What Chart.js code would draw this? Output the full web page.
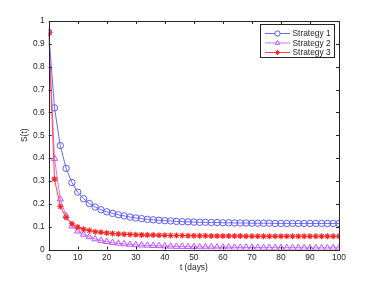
<!DOCTYPE html>
<html lang="en">
<head>
<meta charset="UTF-8">
<title>S(t) strategies</title>
<script src="https://cdn.jsdelivr.net/npm/chart.js"></script>
<style>
  body { margin: 0; padding: 0; background: #fff; }
  #wrap { width: 374px; height: 281px; position: relative; }
</style>
</head>
<body>
<div id="wrap"><canvas id="chart"></canvas></div>
<script>
  // time points (days), every 2 days
  var days = [0,2,4,6,8,10,12,14,16,18,20,22,24,26,28,30,32,34,36,38,40,42,44,46,48,50,
              52,54,56,58,60,62,64,66,68,70,72,74,76,78,80,82,84,86,88,90,92,94,96,98,100];

  var strategy1 = [0.95,0.62,0.455,0.355,0.293,0.251,0.222,0.201,0.186,0.174,0.165,0.158,0.152,0.147,0.142,0.138,
                   0.135,0.132,0.130,0.128,0.126,0.125,0.123,0.122,0.121,0.120,0.119,0.119,0.118,0.118,0.117,
                   0.117,0.116,0.116,0.116,0.115,0.115,0.115,0.115,0.114,0.114,0.114,0.114,0.114,0.114,0.114,
                   0.114,0.114,0.114,0.114,0.114];
  var strategy2 = [0.95,0.398,0.220,0.147,0.102,0.080,0.066,0.055,0.046,0.039,0.034,0.030,0.027,0.024,0.022,0.020,
                   0.019,0.018,0.017,0.016,0.015,0.014,0.013,0.013,0.012,0.012,0.011,0.011,0.011,0.010,0.010,
                   0.010,0.009,0.009,0.009,0.009,0.009,0.008,0.008,0.008,0.008,0.008,0.008,0.008,0.007,0.007,
                   0.007,0.007,0.007,0.007,0.007];
  var strategy3 = [0.95,0.308,0.188,0.140,0.113,0.098,0.089,0.083,0.078,0.075,0.072,0.070,0.068,0.067,0.066,0.065,
                   0.064,0.063,0.063,0.062,0.062,0.061,0.061,0.061,0.060,0.060,0.060,0.060,0.059,0.059,0.059,
                   0.059,0.059,0.059,0.058,0.058,0.058,0.058,0.058,0.058,0.058,0.058,0.058,0.058,0.058,0.058,
                   0.058,0.058,0.058,0.058,0.058];

  var seriesNames = ['Strategy 1', 'Strategy 2', 'Strategy 3'];
  var xTicks = [0,10,20,30,40,50,60,70,80,90,100];
  var yTicks = [0,0.1,0.2,0.3,0.4,0.5,0.6,0.7,0.8,0.9,1];

  function pts(vals) {
    return vals.map(function (v, i) { return { x: days[i], y: v }; });
  }

  var FONT = 'Arial, "Liberation Sans", Helvetica, sans-serif';
  var FS = 8.4;

  // caja estilo matlab con ticks hacia dentro + leyenda dentro del area
  var frameAndLegend = {
    id: 'frameAndLegend',
    afterDraw: function (chart) {
      var ctx = chart.ctx, a = chart.chartArea;
      var xs = chart.scales.x, ys = chart.scales.y;
      ctx.save();
      ctx.strokeStyle = '#262626';
      ctx.lineWidth = 1;
      ctx.strokeRect(Math.round(a.left) + 0.5, Math.round(a.top) + 0.5,
                     Math.round(a.right - a.left), Math.round(a.bottom - a.top));
      ctx.beginPath();
      xTicks.forEach(function (t) {
        var px = Math.round(xs.getPixelForValue(t)) + 0.5;
        ctx.moveTo(px, a.bottom); ctx.lineTo(px, a.bottom - 3);
        ctx.moveTo(px, a.top); ctx.lineTo(px, a.top + 3);
      });
      yTicks.forEach(function (t) {
        var py = Math.round(ys.getPixelForValue(t)) + 0.5;
        ctx.moveTo(a.left, py); ctx.lineTo(a.left + 3, py);
        ctx.moveTo(a.right, py); ctx.lineTo(a.right - 3, py);
      });
      ctx.stroke();

      // leyenda
      var bx = 260.5, by = 24.5, bw = 74, bh = 33;
      ctx.fillStyle = '#fff';
      ctx.fillRect(bx, by, bw, bh);
      ctx.strokeStyle = '#262626';
      ctx.strokeRect(bx, by, bw, bh);
      ctx.font = FS + 'px ' + FONT;
      ctx.textBaseline = 'middle';
      chart.data.datasets.forEach(function (ds, i) {
        var y = by + 9 + i * 9.5;
        ctx.strokeStyle = ds.borderColor;
        ctx.lineWidth = 1;
        ctx.beginPath();
        ctx.moveTo(bx + 4.5, y); ctx.lineTo(bx + 29.5, y);
        ctx.stroke();
        ctx.strokeStyle = ds.pointBorderColor;
        ctx.fillStyle = ds.pointStyle === 'star' ? ds.pointBorderColor : '#fff';
        Chart.helpers.drawPoint(ctx, {
          pointStyle: ds.pointStyle, radius: 2.6, borderWidth: 1, rotation: 0
        }, bx + 17, y);
        ctx.fillStyle = '#262626';
        ctx.fillText(ds.label, bx + 32, y + 0.5);
      });
      ctx.restore();
    }
  };

  new Chart(document.getElementById('chart'), {
    type: 'line',
    data: {
      datasets: [
        {
          label: seriesNames[0], data: pts(strategy1),
          borderColor: '#6a6aff', backgroundColor: 'rgba(0,0,0,0)',
          borderWidth: 1, pointStyle: 'circle', pointRadius: 3.2,
          pointBorderColor: '#5b5bff', pointBorderWidth: 1, order: 2
        },
        {
          label: seriesNames[1], data: pts(strategy2),
          borderColor: '#cc77ff', backgroundColor: 'rgba(0,0,0,0)',
          borderWidth: 1, pointStyle: 'triangle', pointRadius: 3.6,
          pointBorderColor: '#bb55ff', pointBorderWidth: 1, order: 1
        },
        {
          label: seriesNames[2], data: pts(strategy3),
          borderColor: '#ff4444', backgroundColor: 'rgba(0,0,0,0)',
          borderWidth: 1, pointStyle: 'star', pointRadius: 3,
          pointBorderColor: '#ff2222', pointBorderWidth: 1.1, order: 0
        }
      ]
    },
    options: {
      responsive: true,
      maintainAspectRatio: false,
      animation: false,
      layout: { padding: { top: 21, right: 35, left: 0, bottom: 0 } },
      plugins: { legend: { display: false }, tooltip: { enabled: false } },
      scales: {
        x: {
          type: 'linear', min: 0, max: 100,
          afterBuildTicks: function (s) { s.ticks = xTicks.map(function (v) { return { value: v }; }); },
          grid: { display: false, drawTicks: false },
          border: { display: false },
          ticks: { color: '#262626', font: { size: FS, family: FONT }, padding: 3, maxRotation: 0 },
          title: { display: true, text: 't (days)', color: '#262626', font: { size: FS, family: FONT }, padding: { top: 0, bottom: 8 } },
          afterFit: function (s) { s.height = 31.5; }
        },
        y: {
          min: 0, max: 1,
          afterBuildTicks: function (s) { s.ticks = yTicks.map(function (v) { return { value: v }; }); },
          grid: { display: false, drawTicks: false },
          border: { display: false },
          ticks: {
            color: '#262626', font: { size: FS, family: FONT }, padding: 4,
            callback: function (v) { return String(Math.round(v * 10) / 10); }
          },
          title: { display: true, text: 'S(t)', color: '#262626', font: { size: FS, family: FONT }, padding: { top: 20, bottom: 0 } },
          afterFit: function (s) { s.width = 48.7; }
        }
      }
    },
    plugins: [frameAndLegend]
  });
</script>
</body>
</html>
